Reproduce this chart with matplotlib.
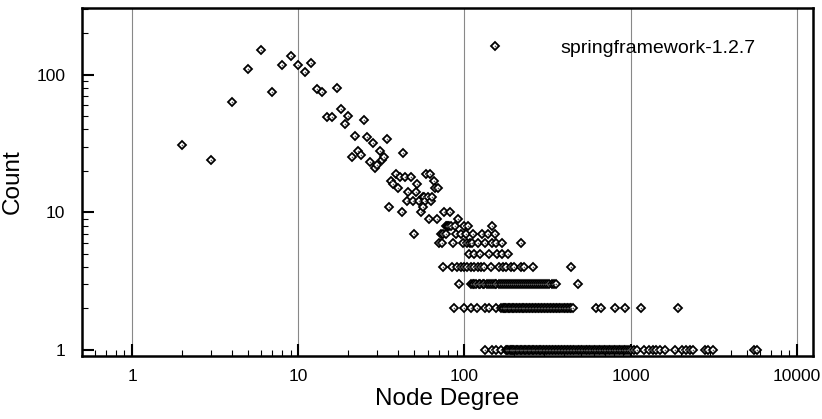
import matplotlib
matplotlib.use("Agg")
import matplotlib.pyplot as plt
from matplotlib.ticker import LogLocator, FixedLocator, NullFormatter, FuncFormatter

plt.rcParams['font.family'] = ['Liberation Sans', 'DejaVu Sans']

# ---- data (node degree, count) ----
# sparse head of the distribution
deg_head = [2, 3, 4, 5, 6, 7, 8, 9, 10, 11, 12, 13, 14, 15, 16, 17, 18, 19, 20,
            21, 22, 23, 24, 25, 26, 27, 28, 29, 30, 31, 32, 33, 34]
cnt_head = [31, 24, 63, 110, 150, 75, 118, 136, 117, 105, 122, 79, 75, 49, 49, 80, 56, 44, 50,
            25, 36, 28, 26, 47, 35, 23, 32, 21, 22, 28, 24, 25, 34]

# middle part (counts 9..19)
deg_mid = [35, 36, 37, 39, 40, 41, 42, 43, 44, 45, 46, 48, 49, 51, 52, 53, 55, 56, 57,
           58, 59, 60, 61, 62, 63, 64, 66, 67, 68, 69, 75, 82, 91, 56]
cnt_mid = [11, 17, 16, 19, 15, 18, 10, 27, 18, 12, 14, 18, 12, 14, 16, 12, 10, 13, 13,
           12, 19, 13, 9, 19, 12, 13, 17, 15, 9, 15, 10, 10, 9, 11]

# rows of small counts
deg_c8 = [77, 79, 80, 81, 83, 88, 100, 105, 147]
deg_c7 = [50, 72, 74, 78, 89, 96, 102, 113, 128, 138, 153]
deg_c6 = [70, 73, 86, 98, 103, 108, 111, 121, 134, 146, 155, 168, 220]
deg_c5 = [106, 114, 125, 141, 158, 169, 182]
deg_c4 = [74, 84, 90, 95, 99, 104, 109, 115, 120, 126, 131, 144, 162, 170, 177, 191,
          199, 219, 228, 258, 440]
deg_c3 = [93, 109, 112, 115, 118, 122, 125, 129, 132, 136, 140, 144, 148, 152, 156, 161,
          165, 170, 175, 180, 185, 190, 196, 201, 207, 213, 219, 225, 232, 238, 245, 252,
          259, 267, 274, 282, 290, 299, 307, 316, 325, 335, 344, 355, 480]
deg_c2 = [87, 99, 110, 119, 134, 141, 154, 167, 170, 173, 176, 179, 182, 186, 189, 193,
          196, 200, 204, 208, 212, 216, 221, 225, 230, 234, 239, 244, 249, 254, 259, 265,
          270, 276, 282, 288, 294, 300, 306, 313, 319, 326, 333, 340, 347, 355, 362, 370,
          378, 386, 395, 404, 413, 422, 431, 440, 450, 620, 660, 805, 930, 1150, 1940]
deg_c1 = [134, 147, 154, 167, 178, 181, 184, 187, 190, 193, 197, 200, 204, 207, 211, 215,
          219, 223, 227, 231, 236, 240, 245, 249, 254, 259, 264, 269, 274, 280, 285, 291,
          297, 303, 309, 315, 322, 328, 335, 342, 349, 356, 364, 371, 379, 387, 395, 404,
          412, 421, 430, 440, 449, 459, 469, 480, 490, 501, 512, 524, 536, 548, 560, 573,
          586, 600, 613, 627, 642, 657, 672, 688, 704, 720, 737, 754, 772, 790, 809, 828,
          848, 868, 889, 910, 932, 955, 978, 1003, 1050, 1100, 1200, 1290, 1370, 1430,
          1500, 1610, 1850, 2030, 2170, 2280, 2390, 2810, 2940, 3150, 5500, 5800]

xticks = [1, 10, 100, 1000, 10000]
yticks = [1, 10, 100]

degree = (deg_head + deg_mid + deg_c8 + deg_c7 + deg_c6 + deg_c5 + deg_c4 + deg_c3
          + deg_c2 + deg_c1)
count = (cnt_head + cnt_mid + [8] * len(deg_c8) + [7] * len(deg_c7) + [6] * len(deg_c6)
         + [5] * len(deg_c5) + [4] * len(deg_c4) + [3] * len(deg_c3) + [2] * len(deg_c2)
         + [1] * len(deg_c1))

fig = plt.figure(figsize=(8.22, 4.19), dpi=100)
ax = fig.add_axes([0.0998, 0.150, 0.889, 0.831])

ax.set_xscale('log')
ax.set_yscale('log')
ax.set_xlim(0.5, 12500)
ax.set_ylim(0.9, 305)

for xv in xticks:
    ax.axvline(xv, color='#888888', lw=0.8, zorder=0)

h1, = ax.plot(degree, count, linestyle='none', marker='D', markersize=4.5,
              markerfacecolor='white', markeredgecolor='black', markeredgewidth=1.3,
              zorder=3)
h2, = ax.plot(degree, count, linestyle='none', marker='o', markersize=1.2,
              markerfacecolor='#555555', markeredgewidth=0, zorder=4)

ax.xaxis.set_major_locator(FixedLocator(xticks))
ax.yaxis.set_major_locator(FixedLocator(yticks))
ax.xaxis.set_minor_locator(LogLocator(base=10, subs=range(2, 10), numticks=20))
ax.yaxis.set_minor_locator(LogLocator(base=10, subs=range(2, 10), numticks=20))
ax.xaxis.set_minor_formatter(NullFormatter())
ax.yaxis.set_minor_formatter(NullFormatter())
fmt = FuncFormatter(lambda v, p: f"{int(round(v))}")
ax.xaxis.set_major_formatter(fmt)
ax.yaxis.set_major_formatter(fmt)

ax.tick_params(which='major', direction='in', length=8.5, width=1.5, labelsize=12.5,
               top=False, right=False)
ax.tick_params(which='minor', direction='in', length=4, width=0.8, top=False, right=False)
ax.tick_params(axis='x', which='major', pad=9)
ax.tick_params(axis='y', which='major', pad=12)

for sp in ax.spines.values():
    sp.set_linewidth(1.8)

ax.set_xlabel('Node Degree', fontsize=17.5, labelpad=3)
ax.set_ylabel('Count', fontsize=17.5, labelpad=9)

ax.legend([(h1, h2)], ['springframework-1.2.7'], loc='center left',
          bbox_to_anchor=(0.5517, 0.885), frameon=False,
          borderpad=0, borderaxespad=0, handlelength=1.0, handletextpad=2.85,
          fontsize=14, numpoints=1)

fig.savefig('out.png', dpi=100)
